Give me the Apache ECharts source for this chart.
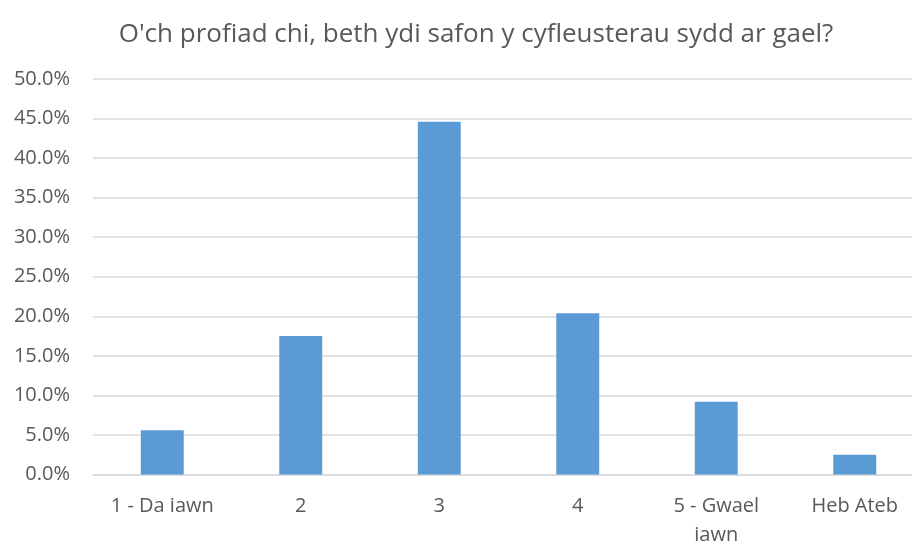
<!DOCTYPE html>
<html>
<head>
<meta charset="utf-8">
<script src="https://cdn.jsdelivr.net/npm/echarts@6/dist/echarts.min.js"></script>
<style>
  html, body { margin: 0; padding: 0; background: #fff; }
  #chart { width: 912px; height: 543px; }
</style>
</head>
<body>
<div id="chart"></div>
<script>
// values
const titleText = "O'ch profiad chi, beth ydi safon y cyfleusterau sydd ar gael?";
const categories = ['1 - Da iawn', '2', '3', '4', '5 - Gwael\niawn', 'Heb Ateb'];
const percentages = [5.6, 17.5, 44.6, 20.4, 9.2, 2.5];

const font = '"Open Sans", "Noto Sans", sans-serif';
const textColor = '#595959';
const gridColor = '#d9d9d9';

const chart = echarts.init(document.getElementById('chart'));

const option = {
    animation: false,
    title: {
        text: titleText,
        left: 471,
        textAlign: 'center',
        top: 17,
        textStyle: { fontFamily: font, fontSize: 26, fontWeight: 'normal', color: textColor }
    },
    grid: {
        left: 93, top: 79, width: 831, height: 395.5,
        containLabel: false, outerBoundsMode: 'none'
    },
    xAxis: {
        type: 'category',
        data: categories,
        axisLine: { show: true, lineStyle: { color: gridColor, width: 1.5 } },
        axisTick: { show: false },
        axisLabel: { fontFamily: font, fontSize: 20, color: textColor, margin: 17, lineHeight: 29, interval: 0 }
    },
    yAxis: {
        type: 'value',
        min: 0,
        max: 50,
        interval: 5,
        axisLine: { show: false },
        axisTick: { show: false },
        splitLine: { lineStyle: { color: gridColor, width: 1.5 } },
        axisLabel: {
            fontFamily: font, fontSize: 20, color: textColor, margin: 23,
            formatter: v => v.toFixed(1) + '%'
        }
    },
    series: [{
        type: 'bar',
        data: percentages,
        barWidth: '31%',
        itemStyle: { color: '#5b9bd5' }
    }]
};

chart.setOption(option);
</script>
</body>
</html>
